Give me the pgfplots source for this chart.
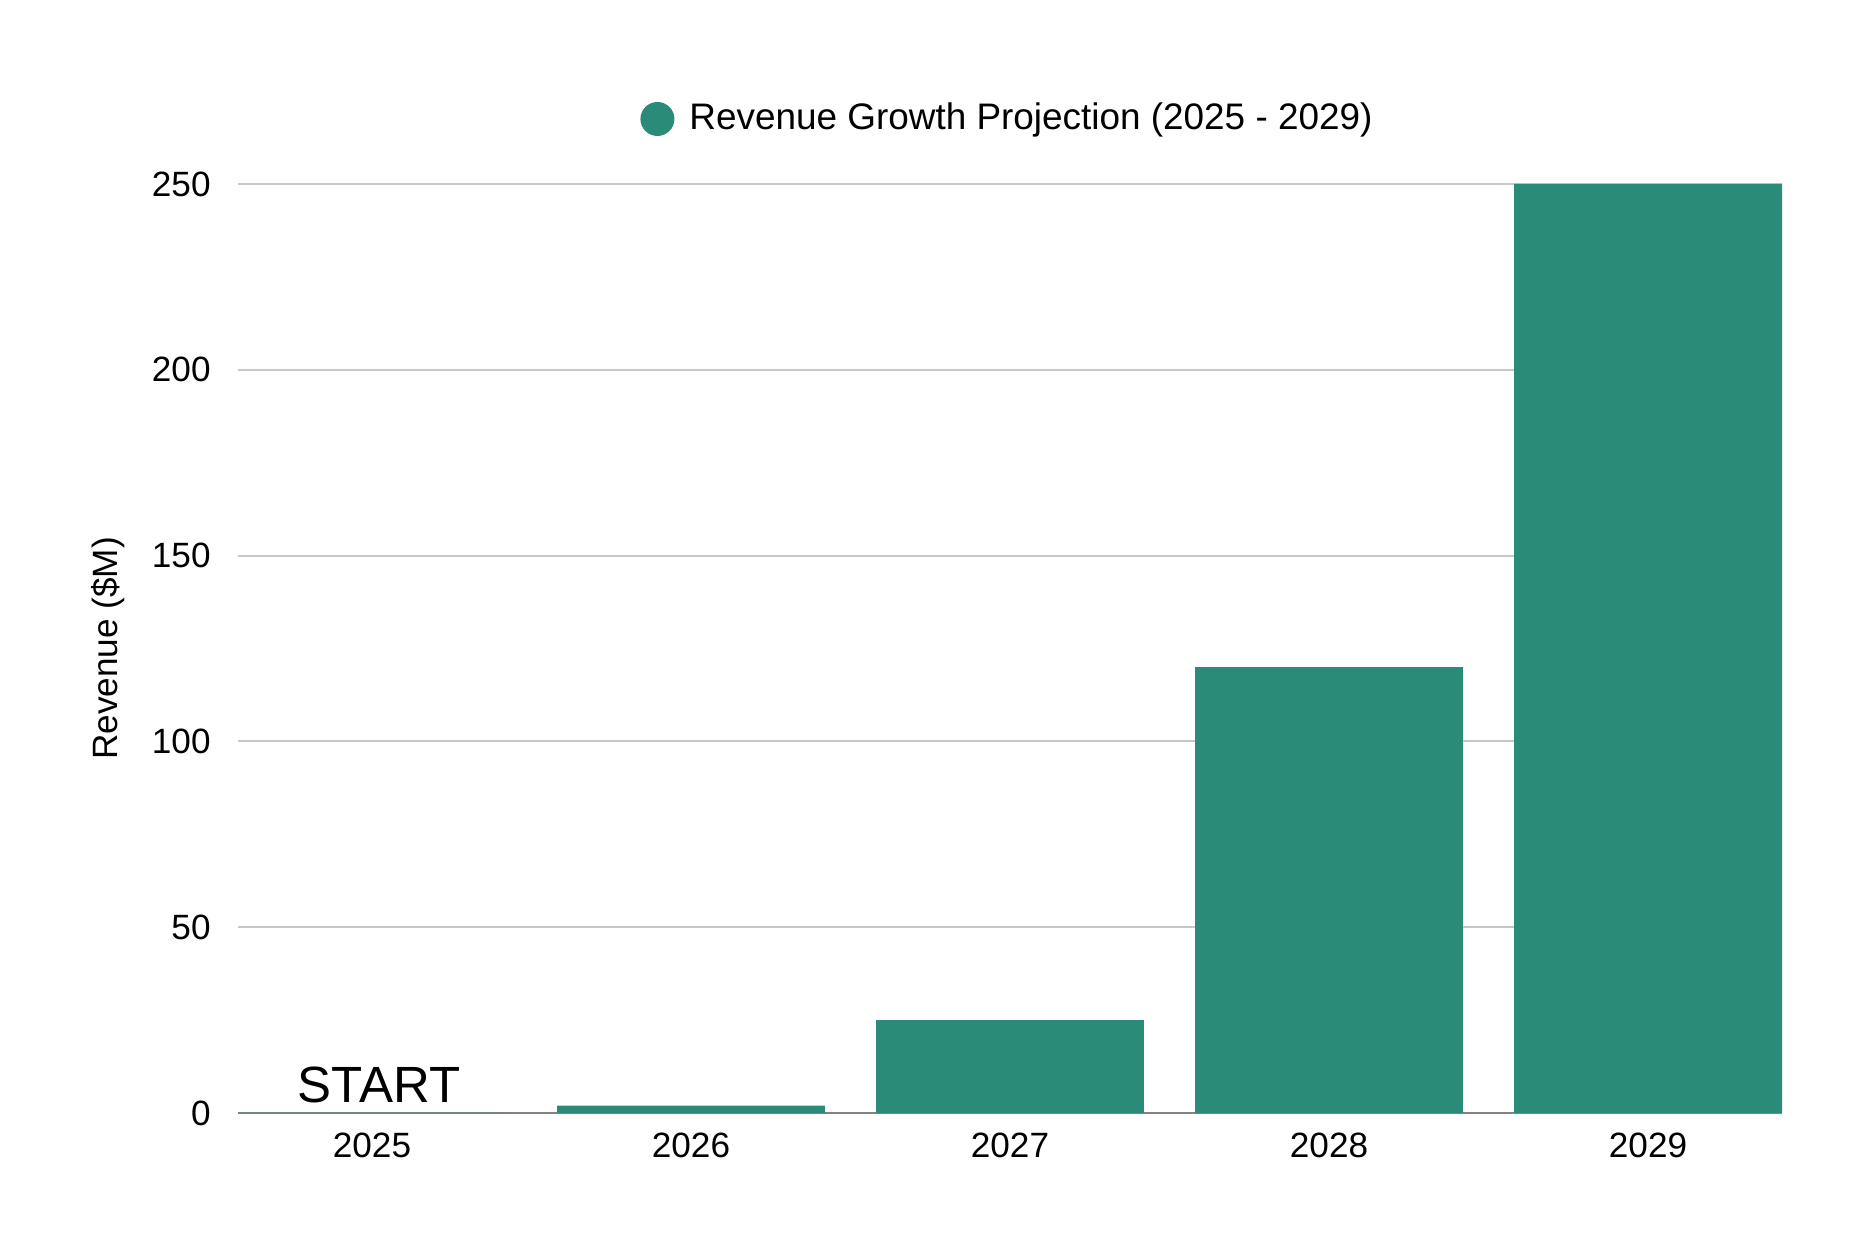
\documentclass[border=0pt]{standalone}
\usepackage{fontspec}
\setmainfont{Liberation Sans}
\usepackage{pgfplots}
\pgfplotsset{compat=1.18}

\definecolor{barcol}{RGB}{42,140,120}
\definecolor{gridcol}{RGB}{200,200,200}
\definecolor{zerocol}{RGB}{130,130,130}

\begin{document}
\begin{tikzpicture}
\useasboundingbox (-23.8mm,-13.7mm) rectangle (163.7mm,111.3mm);
\begin{axis}[
    at={(0,0)}, anchor=south west,
    scale only axis,
    width=154.4mm, height=92.9mm,
    ybar, bar width=0.84, bar shift=0pt,
    xmin=-0.42, xmax=4.42,
    ymin=0, ymax=250,
    xtick={0,1,2,3,4},
    xticklabels={2025,2026,2027,2028,2029},
    ytick={0,50,100,150,200,250},
    major tick length=0pt,
    axis x line*=bottom,
    axis y line*=left,
    x axis line style={draw=zerocol, line width=0.55pt, -},
    y axis line style={draw=none},
    ymajorgrids,
    grid style={gridcol, line width=0.55pt},
    font=\fontsize{10}{12}\selectfont,
    /pgf/number format/assume math mode=true,
    tick label style={font=\fontsize{10}{12}\selectfont, text=black},
    yticklabel style={xshift=-1.5mm},
    xticklabel style={yshift=-0.8mm},
    ylabel={Revenue (\$M)},
    ylabel style={at={([xshift=-13mm]axis description cs:0,0.5)}, anchor=center, font=\fontsize{10}{12}\selectfont},
    legend style={at={(0.5,1)}, anchor=center, yshift=6.5mm, draw=none, fill=none,
        font=\fontsize{10.5}{12}\selectfont},
    legend image code/.code={\fill[barcol] (0mm,0mm) circle (1.7mm); \path (2.5mm,0mm);},
]
\addplot[fill=barcol, draw=none] coordinates {
    (0,0)
    (1,2)
    (2,25)
    (3,120)
    (4,250)
};
\addlegendentry{Revenue Growth Projection (2025 - 2029)}
\node[anchor=base, yshift=1mm, xshift=0.7mm, font=\fontsize{14.5}{16}\selectfont] at (axis cs:0,0) {START};
\end{axis}
\end{tikzpicture}
\end{document}
